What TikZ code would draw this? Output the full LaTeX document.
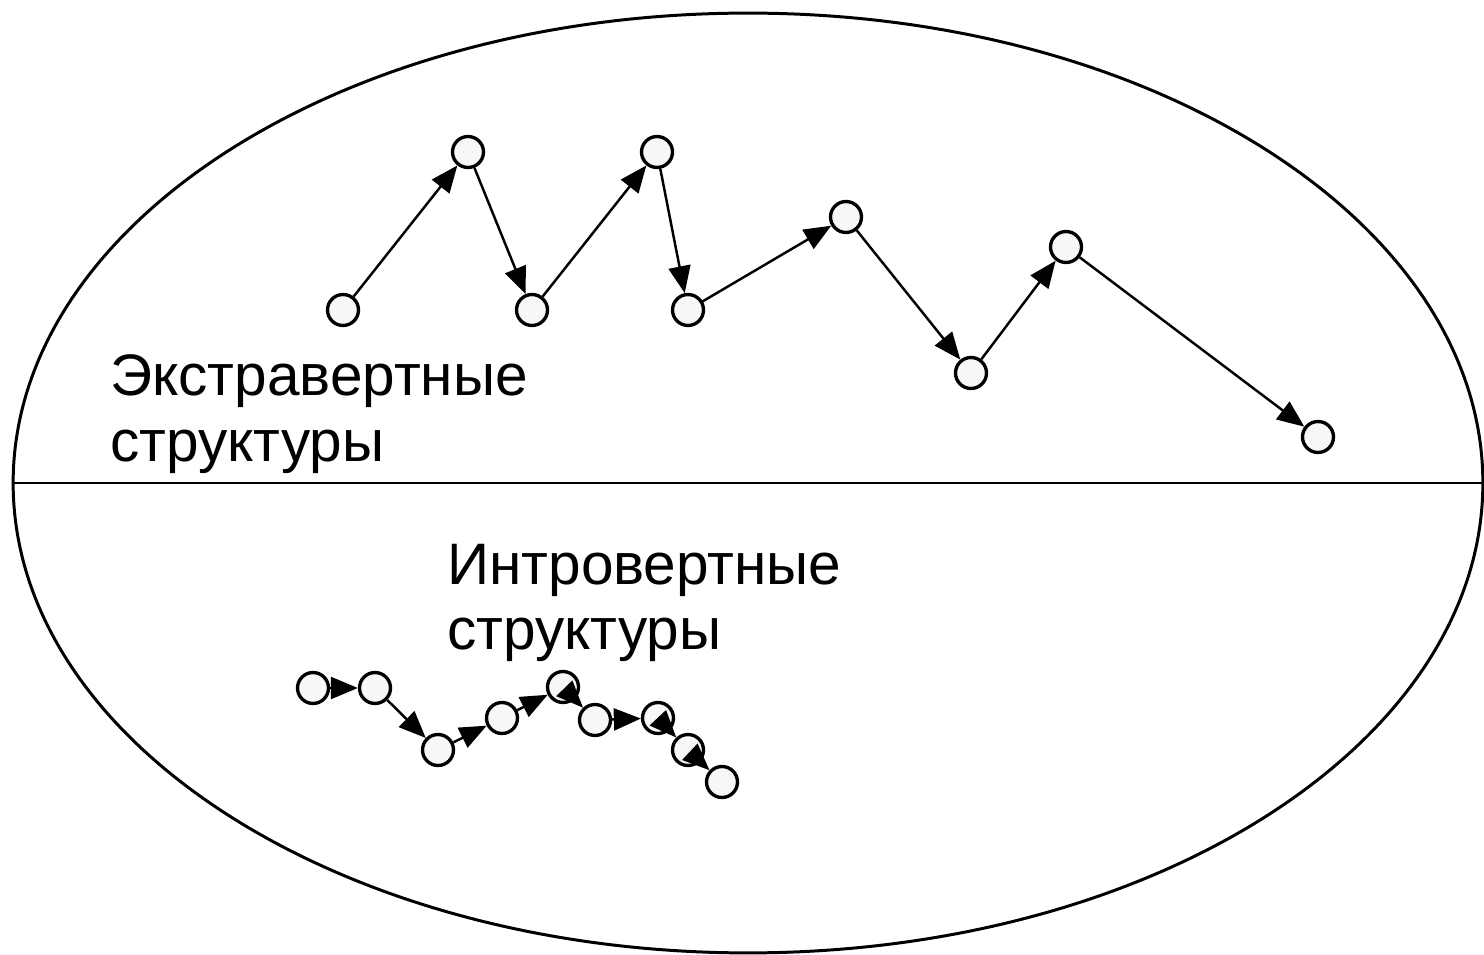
\documentclass[tikz,border=0pt]{standalone}
\usepackage{fontspec}
\setmainfont{Liberation Sans}
\usetikzlibrary{arrows.meta,positioning}

\begin{document}
\begin{tikzpicture}[x=0.02cm,y=-0.02cm,
    pt/.style={circle, draw, line width=1.9pt, fill=black!3, minimum size=0.62cm, inner sep=0pt},
    jump/.style={line width=1.4pt, -{Triangle[length=0.54cm,width=0.44cm]}},
    lbl/.style={font=\fontsize{33.3}{37.5}\selectfont, align=left, anchor=west, inner sep=0pt}]
            \useasboundingbox (0,0) rectangle (1484,955);
            \def\outline{(748,483) ellipse [x radius=14.7cm, y radius=9.4cm]}

            \draw[line width=1.7pt] \outline;
            \draw[line width=1.7pt] (13,483) -- (1484,483);

            % upper chain
            \node[pt] (u1) at (343,310) {};
            \node[pt] (u2) at (468,152) {};
            \node[pt] (u3) at (532,310) {};
            \node[pt] (u4) at (657,152) {};
            \node[pt] (u5) at (688,310) {};
            \node[pt] (u6) at (846,217) {};
            \node[pt] (u7) at (971,373) {};
            \node[pt] (u8) at (1066,247) {};
            \node[pt] (u9) at (1318,437) {};
            \foreach \a/\b in {u1/u2,u2/u3,u3/u4,u4/u5,u5/u6,u6/u7,u7/u8,u8/u9}
                \draw[jump] (\a) -- (\b);

            % lower chain
            \node[pt] (l1) at (313,688) {};
            \node[pt] (l2) at (375,688) {};
            \node[pt] (l3) at (438,750) {};
            \node[pt] (l4) at (502,718) {};
            \node[pt] (l5) at (563,687) {};
            \node[pt] (l6) at (595,720) {};
            \node[pt] (l7) at (658,718) {};
            \node[pt] (l8) at (688,750) {};
            \node[pt] (l9) at (722,782) {};
            \foreach \a/\b in {l1/l2,l2/l3,l3/l4,l4/l5,l5/l6,l6/l7,l7/l8,l8/l9}
                \draw[jump] (\a) -- (\b);

            \node[lbl] (extra) at (110,414) {Экстравертные\\структуры};
            \node[lbl] (intro) at (447,603) {Интровертные\\структуры};
        \end{tikzpicture}
\end{document}
